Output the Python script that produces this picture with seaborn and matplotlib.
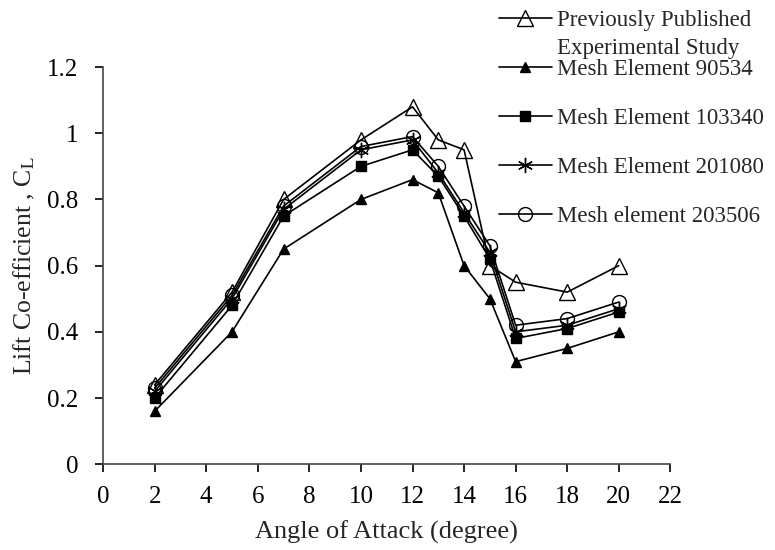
import pandas as pd
import numpy as np
import matplotlib
matplotlib.use('Agg')
import matplotlib.pyplot as plt
import seaborn as sns

# angle of attack (degree)
angle = [2, 5, 7, 10, 12, 13, 14, 15, 16, 18, 20]

# lift coefficient for each series
cl_experiment = [0.24, 0.52, 0.80, 0.98, 1.08, 0.98, 0.95, 0.60, 0.55, 0.52, 0.60]
cl_mesh_90534 = [0.16, 0.40, 0.65, 0.80, 0.86, 0.82, 0.60, 0.50, 0.31, 0.35, 0.40]
cl_mesh_103340 = [0.20, 0.48, 0.75, 0.90, 0.95, 0.87, 0.75, 0.62, 0.38, 0.41, 0.46]
cl_mesh_201080 = [0.22, 0.50, 0.77, 0.95, 0.98, 0.88, 0.76, 0.64, 0.40, 0.42, 0.47]
cl_mesh_203506 = [0.23, 0.51, 0.78, 0.96, 0.99, 0.90, 0.78, 0.66, 0.42, 0.44, 0.49]

labels = ['Previously Published',
          'Mesh Element 90534',
          'Mesh Element 103340',
          'Mesh Element 201080',
          'Mesh element 203506']

sns.set_style('ticks')
plt.rcParams['font.family'] = ['Liberation Serif', 'DejaVu Serif']
plt.rcParams['mathtext.fontset'] = 'stix'

fig = plt.figure(figsize=(7.75, 5.5), dpi=100)
ax = fig.add_axes([0.133, 0.156, 0.732, 0.722])

# marker style per series: (marker, size, facecolor)
styles = [('^', 12, 'none'),
          ('^', 7, 'black'),
          ('s', 7, 'black'),
          ((6, 2, 0), 11, 'black'),
          ('o', 10, 'none')]

series = [cl_experiment, cl_mesh_90534, cl_mesh_103340, cl_mesh_201080, cl_mesh_203506]
for vals, lab, (mk, ms, fc) in zip(series, labels, styles):
    df = pd.DataFrame({'angle': angle, 'cl': vals})
    sns.lineplot(data=df, x='angle', y='cl', ax=ax, color='black', linewidth=1.2,
                 marker=mk, markersize=ms, markerfacecolor=fc,
                 markeredgecolor='black', markeredgewidth=1.0, label=lab)

ax.set_xlim(0, 22)
ax.set_ylim(0, 1.2)
ax.set_xticks(np.arange(0, 23, 2))
ax.set_yticks([0, 0.2, 0.4, 0.6, 0.8, 1.0, 1.2])
ax.set_yticklabels(['0', '0.2', '0.4', '0.6', '0.8', '1', '1.2'])
ax.tick_params(direction='out', length=6, width=1.2, labelsize=18, colors='black')
ax.tick_params(axis='y', pad=12)
ax.tick_params(axis='x', pad=10)
for s in ['left', 'bottom']:
    ax.spines[s].set_color('#444444')
    ax.spines[s].set_linewidth(1.2)
sns.despine(ax=ax)

ax.set_xlabel('Angle of Attack (degree)', fontsize=19, labelpad=9)
ax.set_ylabel('Lift Co-efficient , C$_\\mathrm{L}$', fontsize=18.5, labelpad=7)

ax.get_legend().remove()
handles, labs = ax.get_legend_handles_labels()
leg = fig.legend(handles, labs, loc='upper left', bbox_to_anchor=(0.632, 0.999),
                 frameon=False, fontsize=16.5, handlelength=2.3, handletextpad=0.25,
                 labelspacing=1.22, borderaxespad=0)

# second line of the first legend label runs under the first one
fig.canvas.draw()
bb = leg.get_texts()[0].get_window_extent().transformed(fig.transFigure.inverted())
fig.text(bb.x0, bb.y0 - 0.014, 'Experimental Study', fontsize=16.5, va='top', ha='left')

fig.savefig('out.png', dpi=100)
